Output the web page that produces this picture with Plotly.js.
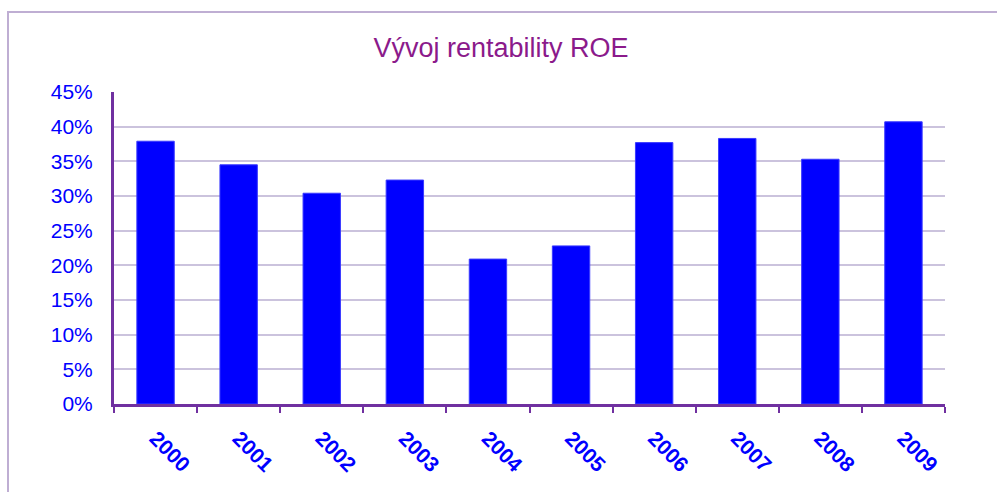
<!DOCTYPE html>
<html><head><meta charset="utf-8">
<script src="https://cdn.plot.ly/plotly-3.0.1.min.js"></script>
<style>html,body{margin:0;padding:0;background:#fff}#c{width:997px;height:492px}</style>
</head><body><div id="c"></div>
<script>
const years = ['2000','2001','2002','2003','2004','2005','2006','2007','2008','2009'];
const roe = [0.379, 0.345, 0.304, 0.323, 0.209, 0.228, 0.377, 0.383, 0.353, 0.407];
const yTicks = [0,0.05,0.10,0.15,0.20,0.25,0.30,0.35,0.40,0.45];
const yTickText = ['0%','5%','10%','15%','20%','25%','30%','35%','40%','45%'];

const purple = '#7030a0';
Plotly.newPlot('c', [{
  type:'bar', x: years, y: roe,
  marker:{color:'#0000ff', line:{color:'#3a3aff', width:1}},
  hoverinfo:'none'
}], {
  width:997, height:492,
  margin:{l:114, r:52, t:92, b:88},
  paper_bgcolor:'#fff', plot_bgcolor:'#fff',
  bargap:0.55,
  showlegend:false,
  font:{family:'Liberation Sans, Arial, sans-serif'},
  title:{text:'Vývoj rentability ROE', font:{size:27, color:'#8b1a8b', family:'Liberation Sans, Arial, sans-serif'},
         x:501/997, xref:'container', xanchor:'center', y:1-48/492, yref:'container', yanchor:'middle'},
  xaxis:{type:'category', tickson:'boundaries', ticks:'outside', ticklen:6, tickwidth:2, tickcolor:purple,
         showline:true, linecolor:purple, linewidth:3, showgrid:false, tickangle:45,
         tickfont:{size:21, color:'#0000ff', family:'Liberation Sans, Arial, sans-serif', weight:'bold'},
         ticklabelstandoff:11},
  yaxis:{range:[0,0.45], tickvals:yTicks, ticktext:yTickText, showline:true, linecolor:purple, linewidth:3,
         gridcolor:'#cbc3dd', gridwidth:2, ticks:'', zeroline:false,
         tickfont:{size:21, color:'#0000ff', family:'Liberation Sans, Arial, sans-serif'}, ticklabelstandoff:14},
  shapes:[{type:'rect', xref:'paper', yref:'paper', x0:-106/831, x1:1.2, y0:-1, y1:1+80/312,
           line:{color:'#bfaed3', width:2}, fillcolor:'rgba(0,0,0,0)', layer:'below'}]
}, {staticPlot:true});
</script></body></html>
